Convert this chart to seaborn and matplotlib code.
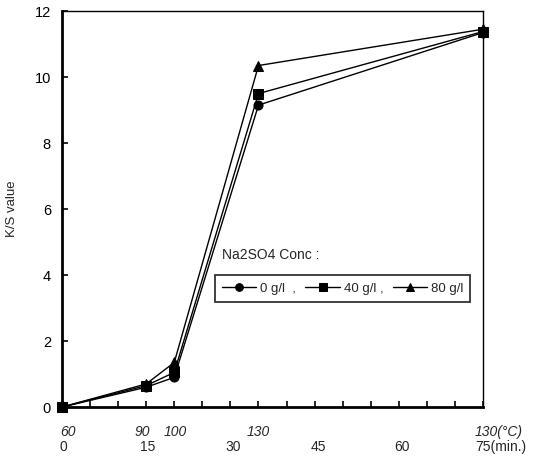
import pandas as pd
import seaborn as sns
import matplotlib.pyplot as plt

# heating profile: time (min) and K/S for each Na2SO4 concentration
minutes = [0, 15, 20, 35, 75]
ks_0g = [0.0, 0.60, 0.90, 9.15, 11.35]
ks_40g = [0.0, 0.65, 1.05, 9.50, 11.38]
ks_80g = [0.0, 0.70, 1.35, 10.35, 11.45]
conc_labels = ['0 g/l', '40 g/l', '80 g/l']

# hand-placed axis labels under the plot
temp_labels = ['60', '90', '100', '130']
temp_pos = [1.0, 14.3, 20.2, 35.0]
min_labels = ['0', '15', '30', '45', '60']
min_pos = [0.2, 15.2, 30.5, 45.6, 60.6]

df = pd.DataFrame({
    'minutes': minutes * 3,
    'ks': ks_0g + ks_40g + ks_80g,
    'conc': [c for c in conc_labels for _ in minutes],
})

sns.set_style('ticks')
plt.rcParams['font.family'] = ['Liberation Sans', 'DejaVu Sans']

fig = plt.figure(figsize=(5.43, 4.62), dpi=100)
ax = fig.add_axes([0.1142, 0.119, 0.7753, 0.857])

sns.lineplot(data=df, x='minutes', y='ks', style='conc', markers=['o', 's', '^'],
             dashes=False, color='black', linewidth=1.0, markersize=6.5,
             markeredgecolor='black', ax=ax, legend=False)
for line in ax.get_lines():
    line.set_clip_on(False)

ax.set_xlim(0, 75)
ax.set_ylim(0, 12)
ax.set_xticks(range(0, 80, 5))
ax.set_xticklabels([])
ax.set_yticks(range(0, 14, 2))
ax.tick_params(axis='both', direction='in', length=4, width=1.2, colors='black', labelsize=10.5)
ax.tick_params(axis='y', pad=8)
ax.set_xlabel('')
ax.set_ylabel('K/S value', fontsize=9.5, labelpad=12)

for side in ['left', 'bottom']:
    ax.spines[side].set_linewidth(2.0)
for side in ['top', 'right']:
    ax.spines[side].set_linewidth(1.0)
for s in ax.spines.values():
    s.set_color('black')

trans = ax.get_xaxis_transform()
for lab, x in zip(temp_labels, temp_pos):
    ax.text(x, -0.063, lab, transform=trans, ha='center', va='center',
            fontsize=10, style='italic', clip_on=False)
ax.text(73.6, -0.063, '130(\u00b0C)', transform=trans, ha='left', va='center',
        fontsize=10, style='italic', clip_on=False)
for lab, x in zip(min_labels, min_pos):
    ax.text(x, -0.1, lab, transform=trans, ha='center', va='center',
            fontsize=10, clip_on=False)
ax.text(73.6, -0.1, '75(min.)', transform=trans, ha='left', va='center',
        fontsize=10, clip_on=False)

# legend: title sits above the framed single-row key
ax.text(0.38, 0.384, 'Na2SO4 Conc :', transform=ax.transAxes, ha='left',
        va='center', fontsize=10)
handles = ax.get_lines()[:3]
leg = ax.legend(handles, [conc_labels[0] + '  ,', conc_labels[1] + ' ,', conc_labels[2]],
                ncol=3, loc='upper left', bbox_to_anchor=(0.363, 0.333),
                fontsize=9.5, frameon=True, fancybox=False, handlelength=2.6,
                handletextpad=0.3, columnspacing=0.7, borderpad=0.55,
                borderaxespad=0, markerscale=0.85)
leg.get_frame().set_edgecolor('black')
leg.get_frame().set_linewidth(1.3)

fig.savefig('out.png', dpi=100)
